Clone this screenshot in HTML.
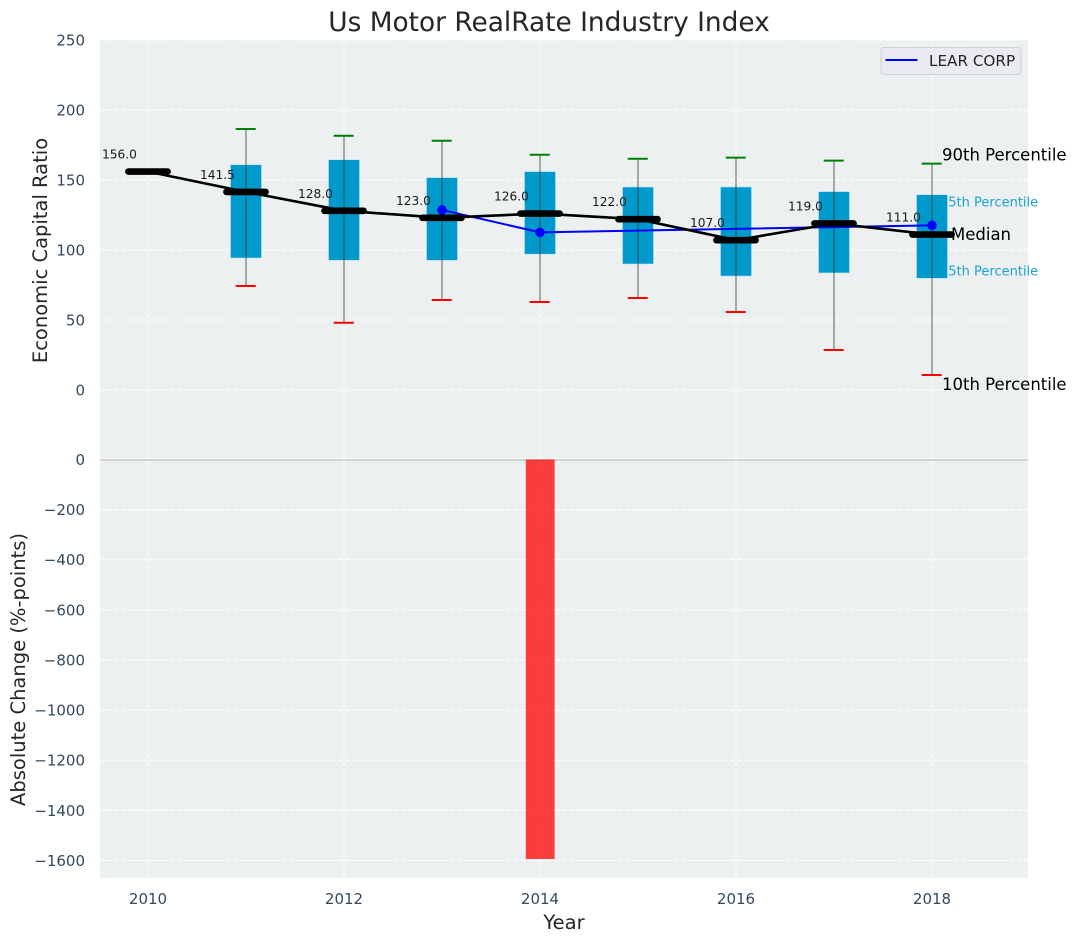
<!DOCTYPE html>
<html lang="en">
<head>
<meta charset="utf-8">
<title>Us Motor RealRate Industry Index</title>
<style>
html,body{margin:0;padding:0;background:#fff;}
svg{display:block;font-family:"DejaVu Sans","Liberation Sans",sans-serif;}
</style>
</head>
<body>
<svg id="chart" xmlns="http://www.w3.org/2000/svg" width="1077" height="942" viewBox="0 0 1077 942">
  <rect x="0" y="0" width="1077" height="942" fill="#ffffff"/>
  <rect x="100" y="40" width="928" height="419" fill="#ecf0f1"/>
  <rect x="100" y="459" width="928" height="419" fill="#ecf0f1"/>
  <g id="grid"></g>
  <g id="bars"></g>
  <g id="notes"></g>
  <g id="boxes"></g>
  <g id="lines"></g>
  <g id="labels"></g>
  <g id="ticks"></g>
  <text x="549" y="31" text-anchor="middle" font-size="26.4" fill="#262626">Us Motor RealRate Industry Index</text>
  <text transform="translate(47,250.5) rotate(-90)" text-anchor="middle" font-size="19.5" fill="#262626">Economic Capital Ratio</text>
  <text transform="translate(25,669.5) rotate(-90)" text-anchor="middle" font-size="19.5" fill="#262626">Absolute Change (%-points)</text>
  <text x="564" y="929" text-anchor="middle" font-size="19.5" fill="#262626">Year</text>
  <g>
    <rect x="881" y="47.5" width="140" height="27" rx="3" fill="#eaeaf2" stroke="#d0d0d6" stroke-width="1"/>
    <line x1="885.5" y1="60" x2="917.5" y2="60" stroke="#0000ff" stroke-width="2"/>
    <text x="929" y="66" font-size="15.2" fill="#262626">LEAR CORP</text>
  </g>
</svg>
<script>
var years = [2010, 2011, 2012, 2013, 2014, 2015, 2016, 2017, 2018];
var medians = [156, 141.5, 128, 123, 126, 122, 107, 119, 111];
var p90 = [null, 186.4, 181.6, 178, 168, 165.2, 166, 163.8, 161.7];
var p75 = [null, 160.9, 164.5, 151.7, 156, 145, 145, 141.7, 139.5];
var p25 = [null, 94.3, 92.6, 92.6, 97, 90, 81.4, 83.6, 79.8];
var p10 = [null, 74.3, 48, 64.3, 62.9, 65.7, 55.7, 28.6, 10.7];
var learCorp = [null, null, null, 128.6, 112.6, null, null, null, 117.6];
var absoluteChange = [0, 0, 0, 0, -1594, 0, 0, 0, 0];
var xTicks = [2010, 2012, 2014, 2016, 2018];
var upperTicks = [250, 200, 150, 100, 50, 0];
var lowerTicks = [0, -200, -400, -600, -800, -1000, -1200, -1400, -1600];

var NS = 'http://www.w3.org/2000/svg';
function xPos(year) { return 148 + 98 * (year - 2010); }
function yUpper(v) { return 390 - 1.4 * v; }
function yLower(v) { return 459.5 - 0.2506 * v; }
function make(parentId, tag, attrs, content) {
  var el = document.createElementNS(NS, tag);
  for (var k in attrs) { el.setAttribute(k, attrs[k]); }
  if (content !== undefined) { el.textContent = content; }
  document.getElementById(parentId).appendChild(el);
  return el;
}
var GRID = { stroke: '#ffffff', 'stroke-width': 1, 'stroke-dasharray': '5 2' };
function gridAttrs(x1, y1, x2, y2) {
  return { x1: x1, y1: y1, x2: x2, y2: y2, stroke: GRID.stroke, 'stroke-width': GRID['stroke-width'], 'stroke-dasharray': GRID['stroke-dasharray'] };
}

xTicks.forEach(function (t) {
  var g = make('grid', 'line', gridAttrs(xPos(t), 40, xPos(t), 878));
  
  
  var lab = make('ticks', 'text', { x: xPos(t), y: 904, 'text-anchor': 'middle', 'font-size': 15, fill: '#34495e' }, String(t));
  
  
});
upperTicks.forEach(function (t) {
  var g = make('grid', 'line', gridAttrs(100, yUpper(t), 1028, yUpper(t)));
  
  
  var lab = make('ticks', 'text', { x: 85, y: yUpper(t) + 5.5, 'text-anchor': 'end', 'font-size': 15, fill: '#34495e' }, String(t));
  
  
});
lowerTicks.forEach(function (t) {
  var g = make('grid', 'line', gridAttrs(100, yLower(t), 1028, yLower(t)));
  
  
  var txt = t < 0 ? '\u2212' + Math.abs(t) : String(t);
  var lab = make('ticks', 'text', { x: 85, y: yLower(t) + 5.5, 'text-anchor': 'end', 'font-size': 15, fill: '#34495e' }, txt);
  
  
});

var sep = make('grid', 'line', { x1: 100, y1: 458.7, x2: 1028, y2: 458.7, stroke: '#ffffff', 'stroke-width': 1.2 });


var zero = make('grid', 'line', { x1: 100, y1: 459.9, x2: 1028, y2: 459.9, stroke: '#bdbdbd', 'stroke-width': 1.2 });



years.forEach(function (yr, i) {
  var v = absoluteChange[i];
  if (!v) { return; }
  var top = Math.min(yLower(0), yLower(v));
  var h = Math.abs(yLower(v) - yLower(0));
  var bar = make('bars', 'rect', { x: xPos(yr) - 14.2, y: top, width: 28.8, height: h, fill: '#ff0000', 'fill-opacity': 0.75 });
  
  
});

var last = years.length - 1;
function noteText(name, x, value, size, color, content) {
  var t = make('notes', 'text', { x: x, y: yUpper(value) + size * 0.36, 'font-size': size, fill: color }, content);
  
  
}
var lastX = xPos(years[last]);
noteText('note-90th-percentile', lastX + 10, p90[last] + 6.3, 16.5, '#000000', '90th Percentile');
noteText('note-75th-percentile', lastX + 8, p75[last] - 5, 13, '#1aa3d1', '75th Percentile');
noteText('note-median', lastX + 19, medians[last] + 0.5, 16.5, '#000000', 'Median');
noteText('note-25th-percentile', lastX + 8, p25[last] + 5.5, 13, '#1aa3d1', '25th Percentile');
noteText('note-10th-percentile', lastX + 10, p10[last] - 6.5, 16.5, '#000000', '10th Percentile');

years.forEach(function (yr, i) {
  if (p75[i] === null) { return; }
  var cx = xPos(yr);
  var box = make('boxes', 'rect', { x: cx - 15.5, y: yUpper(p75[i]), width: 31, height: yUpper(p25[i]) - yUpper(p75[i]), fill: '#0099cc', stroke: '#bfe3ee', 'stroke-width': 0.6 });
  
  
  var whisk = make('boxes', 'line', { x1: cx, y1: yUpper(p90[i]), x2: cx, y2: yUpper(p10[i]), stroke: '#333333', 'stroke-opacity': 0.6, 'stroke-width': 1.3 });
  
  
  var capHi = make('boxes', 'line', { x1: cx - 10.3, y1: yUpper(p90[i]), x2: cx + 9.7, y2: yUpper(p90[i]), stroke: '#008000', 'stroke-width': 2 });
  
  
  var capLo = make('boxes', 'line', { x1: cx - 10.3, y1: yUpper(p10[i]), x2: cx + 9.7, y2: yUpper(p10[i]), stroke: '#ff0000', 'stroke-width': 2 });
  
  
});

var learPts = [];
years.forEach(function (yr, i) {
  if (learCorp[i] !== null) { learPts.push(xPos(yr) + ',' + yUpper(learCorp[i])); }
});
var learLine = make('lines', 'polyline', { points: learPts.join(' '), fill: 'none', stroke: '#0000ff', 'stroke-width': 2 });


years.forEach(function (yr, i) {
  if (learCorp[i] === null) { return; }
  var dot = make('lines', 'circle', { cx: xPos(yr), cy: yUpper(learCorp[i]), r: 4.8, fill: '#0000ff' });
  
  
});

var medPts = years.map(function (yr, i) { return xPos(yr) + ',' + yUpper(medians[i]); });
var medLine = make('lines', 'polyline', { points: medPts.join(' '), fill: 'none', stroke: '#000000', 'stroke-width': 2.6 });


years.forEach(function (yr, i) {
  var cx = xPos(yr);
  var seg = make('lines', 'line', { x1: cx - 19.6, y1: yUpper(medians[i]), x2: cx + 19.6, y2: yUpper(medians[i]), stroke: '#000000', 'stroke-width': 6.6, 'stroke-linecap': 'round' });
  
  
  var lab = make('labels', 'text', { x: cx - 46, y: yUpper(medians[i]) - 13, 'font-size': 12.2, fill: '#1a1a1a' }, medians[i].toFixed(1));
  
  
});
</script>
</body>
</html>
